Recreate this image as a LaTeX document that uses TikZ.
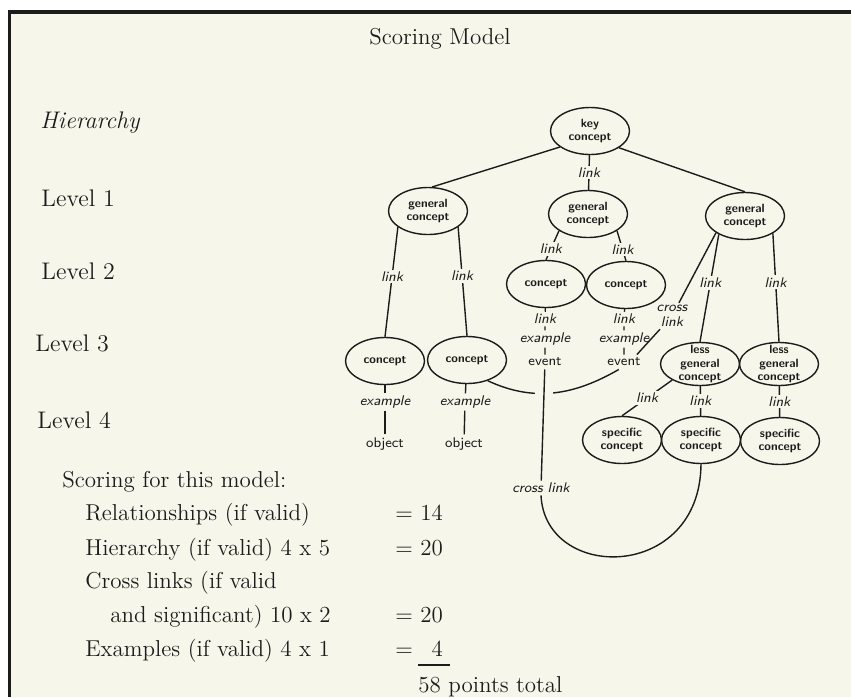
\documentclass[tikz,border=0pt]{standalone}
\usetikzlibrary{shapes.geometric}
\definecolor{paper}{HTML}{F6F7EA}
\definecolor{ink}{HTML}{1C1C1C}

\begin{document}
\begin{tikzpicture}[
  x=0.5pt, y=-0.5pt,
  concept/.style={
    ellipse,
    draw=ink,
    line width=0.7pt,
    minimum width=39.5pt,
    minimum height=23.5pt,
    inner sep=0pt,
    align=center,
    text=ink,
    font=\sffamily\bfseries\fontsize{6}{6.6}\selectfont
  },
  lesser/.style={
    concept,
    minimum height=21.5pt,
    inner ysep=-2pt
  },
  linkword/.style={
    fill=paper,
    inner sep=1pt,
    text=ink,
    font=\sffamily\slshape\fontsize{7}{7.6}\selectfont
  },
  instance/.style={
    inner sep=1.5pt,
    text=ink,
    font=\sffamily\fontsize{7}{8}\selectfont
  },
  edge/.style={
    draw=ink,
    line width=0.7pt
  },
  level/.style={
    anchor=west,
    inner sep=0pt,
    text=ink,
    font=\fontsize{12}{14}\selectfont
  },
  score/.style={
    anchor=base west,
    inner sep=0pt,
    text=ink,
    font=\fontsize{11.5}{14}\selectfont
  }
]

\useasboundingbox (0,0) rectangle (851,697);
\fill[white] (0,0) rectangle (851,697);
\fill[paper] (9.5,12) rectangle (851,697);
\draw[ink, line width=1.6pt] (9.5,697) -- (9.5,12) -- (851,12);

% headings on the left
\node[text=ink, font=\fontsize{11.5}{13}\selectfont] (title) at (440,39) {Scoring Model};
\node[level, font=\itshape\fontsize{12}{14}\selectfont] (hier) at (40,123) {Hierarchy};
\node[level] (lv1) at (41,198) {Level 1};
\node[level] (lv2) at (41,271) {Level 2};
\node[level] (lv3) at (35,343) {Level 3};
\node[level] (lv4) at (37,420) {Level 4};

% concept nodes
\node[concept] (key) at (590,131) {key\\concept};
\node[concept] (gcL) at (428,211) {general\\concept};
\node[concept] (gcM) at (588,214) {general\\concept};
\node[concept] (gcR) at (745,216) {general\\concept};
\node[concept] (caL2) at (546,284) {concept};
\node[concept] (cbL2) at (626,285) {concept};
\node[concept] (caL3) at (385,361) {concept};
\node[concept] (cbL3) at (467,360) {concept};
\node[lesser] (lgcL) at (700,364) {less\\general\\concept};
\node[lesser] (lgcR) at (779,364) {less\\general\\concept};
\node[concept] (scL) at (622,440) {specific\\concept};
\node[concept] (scM) at (701,440) {specific\\concept};
\node[concept] (scR) at (780,441) {specific\\concept};

% examples under the concepts
\node[linkword] (lkA) at (545,319) {link};
\node[linkword] (exA) at (545,339) {example};
\node[instance] (evA) at (545,362) {event};
\node[linkword] (lkB) at (624,319) {link};
\node[linkword] (exB) at (624,339) {example};
\node[instance] (evB) at (624,362) {event};
\node[linkword] (exL3a) at (385,402) {example};
\node[instance] (obL3a) at (385,444) {object};
\node[linkword] (exL3b) at (465,402) {example};
\node[instance] (obL3b) at (464,444) {object};
\node[linkword, align=center] (xlinkA) at (672,316) {cross\\link};
\node[linkword] (xlinkB) at (541,488) {cross link};

% hierarchy links
\draw[edge] (key.-152) -- (gcL.80);
\draw[edge] (key) -- node[linkword] {link} (gcM);
\draw[edge] (key.-30) -- (gcR.north);
\draw[edge] (gcL.-152) -- node[linkword, pos=0.45] {link} (caL3.north);
\draw[edge] (gcL.-28) -- node[linkword, pos=0.45] {link} (cbL3.north);
\draw[edge] (gcM.-150) -- node[linkword, pos=0.62] {link} (caL2.north);
\draw[edge] (gcM.-30) -- node[linkword, pos=0.62] {link} (cbL2.north);
\draw[edge] (gcR.-145) -- node[linkword, pos=0.45] {link} (lgcL.north);
\draw[edge] (gcR.-32) -- node[linkword, pos=0.45] {link} (lgcR.north);
\draw[edge] (lgcL.-150) -- node[linkword] {link} (scL.north);
\draw[edge] (lgcL) -- node[linkword] {link} (scM);
\draw[edge] (lgcR) -- node[linkword] {link} (scR);

% example chains
\draw[edge] (caL2) -- (lkA) -- (exA) -- (evA);
\draw[edge] (cbL2) -- (lkB) -- (exB) -- (evB);
\draw[edge] (caL3) -- (exL3a) -- (obL3a);
\draw[edge] (cbL3) -- (exL3b) -- (obL3b);

% cross links
\draw[edge] (gcR.-150) -- (xlinkA) -- (evB.30);
\draw[edge] (cbL3.-45) to[out=-25, in=-150] (evB.-125);
\draw[edge, preaction={draw=paper, line width=9pt}] (evA) -- (xlinkB);
\draw[edge] (xlinkB.south) .. controls (545,582) and (700,582) .. (scM.south);

% scoring
\node[score] (head) at (62,487) {Scoring for this model:};
\node[score] (rel) at (85,520) {Relationships (if valid)};
\node[score] (relv) at (395,520) {= 14};
\node[score] (hie) at (85,555) {Hierarchy (if valid) 4 x 5};
\node[score] (hiev) at (395,555) {= 20};
\node[score] (crs) at (85,588) {Cross links (if valid};
\node[score] (sig) at (110,622) {and significant) 10 x 2};
\node[score] (sigv) at (395,622) {= 20};
\node[score] (exm) at (85,656) {Examples (if valid) 4 x 1};
\node[score] (exmv) at (395,656) {= \phantom{1}4};
\draw[edge, line width=0.8pt] (418,665) -- (450,665);
\node[score] (tot) at (418,692) {58 points total};

\end{tikzpicture}
\end{document}
